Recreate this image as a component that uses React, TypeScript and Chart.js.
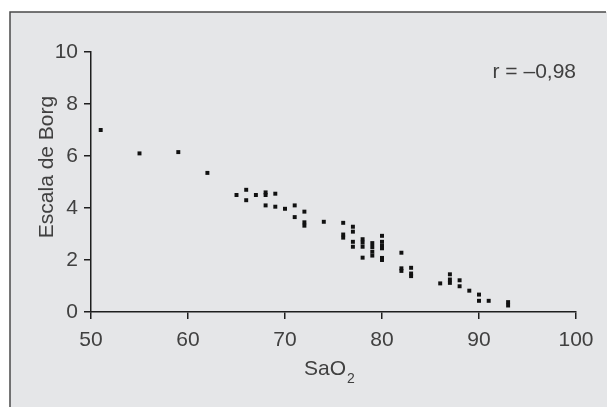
import React, { useEffect, useRef } from "react";
import { Chart, registerables } from "chart.js";

Chart.register(...registerables);

const saO2 = [
  51, 55, 59, 62, 65, 66, 66, 67, 68, 68, 68, 69, 69, 70, 71, 71, 72, 72, 72, 74,
  76, 76, 76, 77, 77, 77, 77, 78, 78, 78, 78, 79, 79, 79, 79, 80, 80, 80, 80, 80,
  80, 82, 82, 82, 83, 83, 83, 86, 87, 87, 87, 88, 88, 89, 90, 90, 91, 93, 93,
];
const borg = [
  7.0, 6.1, 6.15, 5.35, 4.5, 4.7, 4.3, 4.5, 4.6, 4.5, 4.1, 4.55, 4.05, 3.97, 4.1, 3.65, 3.86, 3.45, 3.32, 3.47,
  3.43, 2.98, 2.86, 3.28, 3.09, 2.7, 2.51, 2.8, 2.67, 2.51, 2.09, 2.65, 2.5, 2.32, 2.17, 2.93, 2.7, 2.55, 2.45, 2.08,
  2.0, 2.28, 1.68, 1.58, 1.7, 1.48, 1.38, 1.1, 1.45, 1.25, 1.12, 1.22, 0.99, 0.82, 0.67, 0.43, 0.43, 0.38, 0.25,
];
const xTicks = [50, 60, 70, 80, 90, 100];
const yTicks = [0, 2, 4, 6, 8, 10];
const yTitle = "Escala de Borg";
const xTitleMain = "SaO";
const xTitleSub = "2";
const corrLabel = "r = \u20130,98";

const FONT = "'Liberation Sans', Arial, sans-serif";
const TEXT = "#404040";
const AXIS = "#1e1e1e";

const framePlugin = {
  id: "frame",
  beforeDraw(chart: any) {
    const ctx = chart.ctx;
    ctx.save();
    ctx.fillStyle = "#e5e6e8";
    ctx.fillRect(10, 12, 597, 395);
    ctx.strokeStyle = "#4a4a4a";
    ctx.lineWidth = 1.5;
    ctx.beginPath();
    ctx.moveTo(10, 407);
    ctx.lineTo(10, 12);
    ctx.lineTo(606, 12);
    ctx.stroke();
    ctx.restore();
  },
  afterDraw(chart: any) {
    const ctx = chart.ctx;
    const area = chart.chartArea;
    ctx.save();
    ctx.fillStyle = TEXT;
    // y title
    ctx.font = `21px ${FONT}`;
    ctx.translate(47, 167);
    ctx.rotate(-Math.PI / 2);
    ctx.textAlign = "center";
    ctx.textBaseline = "middle";
    ctx.fillText(yTitle, 0, 0);
    ctx.setTransform(1, 0, 0, 1, 0, 0);
    // x title with subscript
    ctx.textAlign = "left";
    ctx.textBaseline = "alphabetic";
    ctx.font = `21px ${FONT}`;
    const w = ctx.measureText(xTitleMain).width;
    ctx.fillText(xTitleMain, 304, 375);
    ctx.font = `14px ${FONT}`;
    ctx.fillText(xTitleSub, 304 + w + 1, 383);
    // correlation label
    ctx.font = `21px ${FONT}`;
    ctx.textAlign = "right";
    ctx.fillText(corrLabel, area.right, 78);
    ctx.restore();
  },
};

export default function App() {
  const ref = useRef<HTMLCanvasElement>(null);

  useEffect(() => {
    if (!ref.current) return;
    const points = saO2.map((x, i) => ({ x, y: borg[i] }));
    const chart = new Chart(ref.current, {
      type: "scatter",
      data: {
        datasets: [
          {
            data: points,
            pointStyle: "rect",
            pointRadius: 2.8,
            backgroundColor: "#111111",
            borderWidth: 0,
          },
        ],
      },
      options: {
        animation: false,
        responsive: false,
        layout: { padding: { top: 52, right: 31, left: 0, bottom: 0 } },
        plugins: { legend: { display: false }, tooltip: { enabled: false } },
        scales: {
          x: {
            type: "linear",
            min: xTicks[0],
            max: xTicks[xTicks.length - 1],
            afterBuildTicks: (s: any) => {
              s.ticks = xTicks.map((v) => ({ value: v }));
            },
            afterFit: (s: any) => {
              s.height = 95;
            },
            ticks: { font: { size: 21, family: FONT }, color: TEXT, padding: 9, maxRotation: 0 },
            grid: { drawOnChartArea: false, drawTicks: true, tickLength: 7, color: AXIS, lineWidth: 1.5 },
            border: { display: true, color: AXIS, width: 1.5 },
          },
          y: {
            type: "linear",
            min: yTicks[0],
            max: yTicks[yTicks.length - 1],
            afterBuildTicks: (s: any) => {
              s.ticks = yTicks.map((v) => ({ value: v }));
            },
            afterFit: (s: any) => {
              s.width = 91;
            },
            ticks: { font: { size: 21, family: FONT }, color: TEXT, padding: 6 },
            grid: { drawOnChartArea: false, drawTicks: true, tickLength: 7, color: AXIS, lineWidth: 1.5 },
            border: { display: true, color: AXIS, width: 1.5 },
          },
        },
      },
      plugins: [framePlugin],
    } as any);
    return () => chart.destroy();
  }, []);

  return (
    <div style={{ position: "absolute", left: 0, top: 0, width: 607, height: 407, background: "#fff" }}>
      <canvas ref={ref} width={607} height={407} style={{ display: "block" }} />
    </div>
  );
}
